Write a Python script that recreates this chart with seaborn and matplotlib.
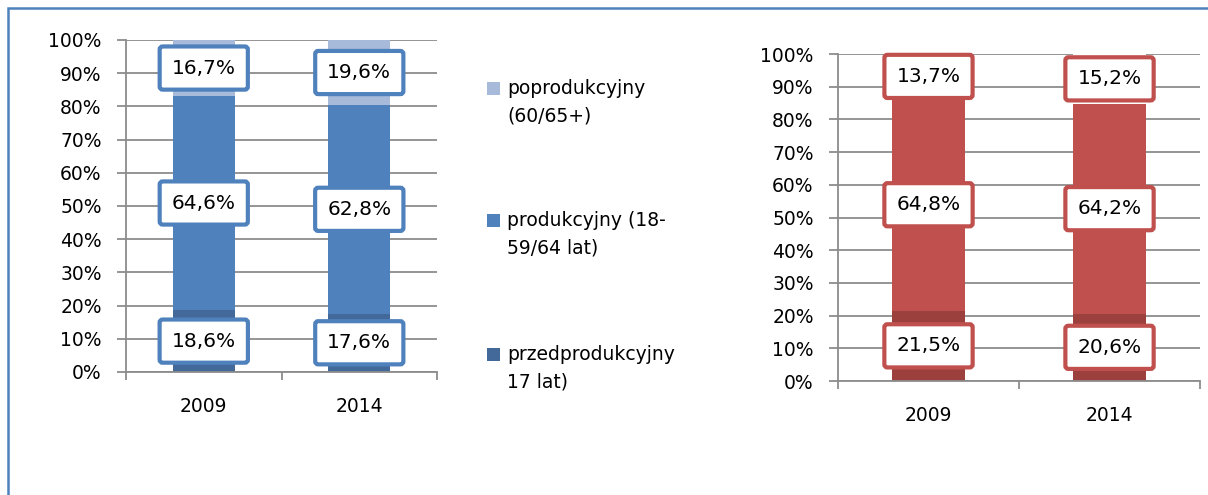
import matplotlib
matplotlib.use("Agg")
import matplotlib.pyplot as plt
from matplotlib.patches import Rectangle
from matplotlib.ticker import FixedLocator, PercentFormatter
import pandas as pd
import seaborn as sns

years = ["2009", "2014"]

# lewy wykres (niebieski)
pre_left = [18.6, 17.6]
prod_left = [64.6, 62.8]
post_left = [16.7, 19.6]

# prawy wykres (czerwony)
pre_right = [21.5, 20.6]
prod_right = [64.8, 64.2]
post_right = [13.7, 15.2]

legend_labels = ["poprodukcyjny\n(60/65+)", "produkcyjny (18-\n59/64 lat)", "przedprodukcyjny\n17 lat)"]

BLUES = ["#42699A", "#4F81BD", "#A8BADA"]
REDS = ["#9C403E", "#C0504D", "#FFFFFF"]
GRID = "#8C8C8C"

sns.set_style("white")
plt.rcParams["font.family"] = ["DejaVu Sans"]
plt.rcParams["text.color"] = "black"
plt.rcParams["xtick.color"] = "black"
plt.rcParams["ytick.color"] = "black"


def draw_panel(ax, pre, prod, post, colors, edge):
    df = pd.DataFrame({"rok": years, "pre": pre, "prod": prod, "post": post})
    df["c1"] = df["pre"]
    df["c2"] = df["c1"] + df["prod"]
    df["c3"] = df["c2"] + df["post"]
    for col, color in [("c3", colors[2]), ("c2", colors[1]), ("c1", colors[0])]:
        sns.barplot(data=df, x="rok", y=col, color=color, width=0.4,
                    saturation=1, linewidth=0, ax=ax)

    for i, row in df.iterrows():
        spots = [(row["pre"], row["c1"] / 2),
                 (row["prod"], (row["c1"] + row["c2"]) / 2),
                 (row["post"], (row["c2"] + row["c3"]) / 2)]
        for val, ypos in spots:
            ax.text(i, ypos, f"{val:.1f}%".replace(".", ","), ha="center", va="center",
                    fontsize=14.5, color="black", zorder=5,
                    bbox=dict(boxstyle="round,pad=0.6,rounding_size=0.15",
                              fc="white", ec=edge, lw=3))

    ax.set_ylim(0, 100)
    ax.set_xlim(-0.5, 1.5)
    ax.set_yticks(range(0, 101, 10))
    ax.yaxis.set_major_formatter(PercentFormatter(decimals=0))
    ax.yaxis.grid(True, color=GRID, lw=1.3)
    ax.set_axisbelow(True)
    ax.set_xlabel("")
    ax.set_ylabel("")
    for side in ["top", "right"]:
        ax.spines[side].set_visible(False)
    for side in ["left", "bottom"]:
        ax.spines[side].set_color(GRID)
        ax.spines[side].set_linewidth(1.3)
    ax.tick_params(axis="y", length=6.5, width=1.3, color=GRID, labelcolor="black",
                   pad=11, labelsize=13.5, left=True)
    ax.tick_params(axis="x", which="major", length=0, pad=18, labelsize=13.5,
                   labelcolor="black")
    ax.xaxis.set_minor_locator(FixedLocator([-0.5, 0.5, 1.5]))
    ax.tick_params(axis="x", which="minor", length=6, width=1.3, color=GRID, bottom=True)


fig = plt.figure(figsize=(12.08, 4.95), dpi=100)
ax_left = fig.add_axes([0.1043, 0.2485, 0.2575, 0.6707])
ax_right = fig.add_axes([0.6937, 0.2303, 0.2997, 0.6606])

draw_panel(ax_left, pre_left, prod_left, post_left, BLUES, "#4F81BD")
draw_panel(ax_right, pre_right, prod_right, post_right, REDS, "#C0504D")

# legenda w stylu Excela (kwadrat przy pierwszej linii)
legend_colors = [BLUES[2], BLUES[1], BLUES[0]]
legend_rows = [1 - 89 / 495, 1 - 221 / 495, 1 - 355 / 495]
for label, color, yrow in zip(legend_labels, legend_colors, legend_rows):
    fig.patches.append(Rectangle((487 / 1208, yrow - 6 / 495), 13 / 1208, 13 / 495,
                                 transform=fig.transFigure, fc=color, ec="none"))
    fig.text(507 / 1208, yrow + 10 / 495, label, ha="left", va="top",
             fontsize=13.5, linespacing=1.6)

# ramka
fig.patches.append(Rectangle((8 / 1208, -0.05), 1.1, 1 - 8 / 495 + 0.05,
                             transform=fig.transFigure, fill=False,
                             ec="#4F81BD", lw=1.8))

fig.savefig("out.png", dpi=100)
